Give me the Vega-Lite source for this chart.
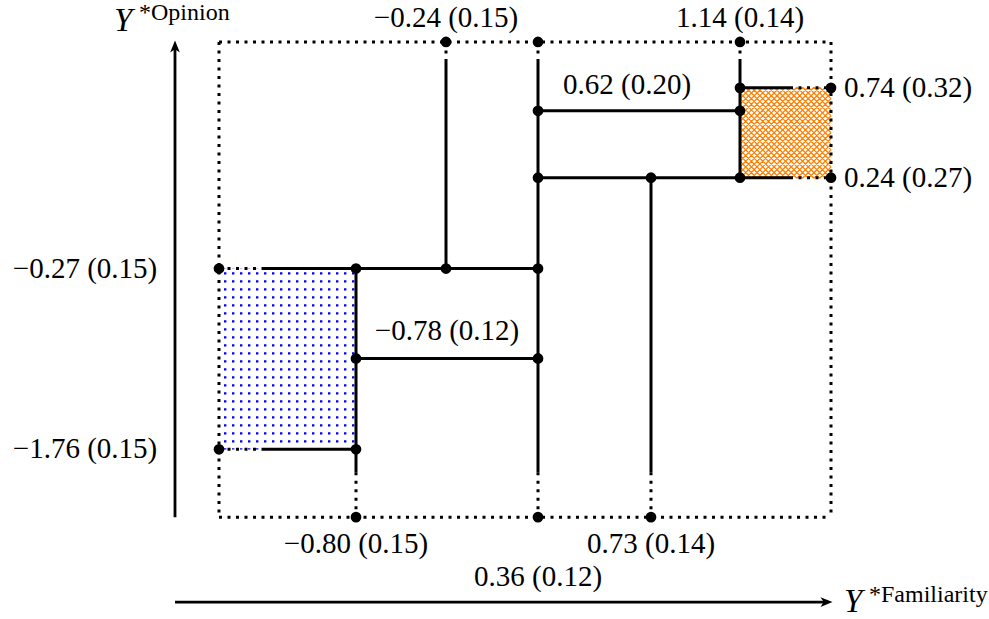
{
  "$schema": "https://vega.github.io/schema/vega-lite/v6.json",
  "width": 989,
  "height": 619,
  "autosize": {"type": "fit", "contains": "padding"},
  "padding": 0,
  "background": "white",
  "config": {"view": {"stroke": null}},
  "datasets": {
    "segments": [
      {"x": 219, "y": 42, "x2": 831, "y2": 42, "style": "dotted"},
      {"x": 219, "y": 518, "x2": 831, "y2": 518, "style": "dotted"},
      {"x": 219, "y": 42, "x2": 219, "y2": 518, "style": "dotted"},
      {"x": 831, "y": 42, "x2": 831, "y2": 518, "style": "dotted"},
      {"x": 446, "y": 42, "x2": 446, "y2": 62, "style": "dotted"},
      {"x": 446, "y": 62, "x2": 446, "y2": 269, "style": "solid"},
      {"x": 538, "y": 42, "x2": 538, "y2": 62, "style": "dotted"},
      {"x": 538, "y": 62, "x2": 538, "y2": 473, "style": "solid"},
      {"x": 538, "y": 473, "x2": 538, "y2": 518, "style": "dotted"},
      {"x": 740, "y": 42, "x2": 740, "y2": 62, "style": "dotted"},
      {"x": 740, "y": 62, "x2": 740, "y2": 178, "style": "solid"},
      {"x": 651, "y": 178, "x2": 651, "y2": 473, "style": "solid"},
      {"x": 651, "y": 473, "x2": 651, "y2": 518, "style": "dotted"},
      {"x": 356, "y": 269, "x2": 356, "y2": 473, "style": "solid"},
      {"x": 356, "y": 473, "x2": 356, "y2": 518, "style": "dotted"},
      {"x": 219, "y": 269, "x2": 263, "y2": 269, "style": "dotted"},
      {"x": 263, "y": 269, "x2": 538, "y2": 269, "style": "solid"},
      {"x": 219, "y": 450, "x2": 263, "y2": 450, "style": "dotted"},
      {"x": 263, "y": 450, "x2": 356, "y2": 450, "style": "solid"},
      {"x": 356, "y": 359, "x2": 538, "y2": 359, "style": "solid"},
      {"x": 538, "y": 111, "x2": 740, "y2": 111, "style": "solid"},
      {"x": 538, "y": 178, "x2": 740, "y2": 178, "style": "solid"},
      {"x": 740, "y": 178, "x2": 790, "y2": 178, "style": "solid"},
      {"x": 790, "y": 178, "x2": 831, "y2": 178, "style": "dotted"},
      {"x": 740, "y": 88, "x2": 790, "y2": 88, "style": "solid"},
      {"x": 790, "y": 88, "x2": 831, "y2": 88, "style": "dotted"}
    ],
    "axes": [
      {"x": 175, "y": 518, "x2": 175, "y2": 47},
      {"x": 175, "y": 603, "x2": 826, "y2": 603}
    ],
    "arrowheads": [
      {"x": 175, "y": 47, "angle": 0},
      {"x": 826, "y": 603, "angle": 90}
    ],
    "points": [
      {"x": 446, "y": 42}, {"x": 538, "y": 42}, {"x": 740, "y": 42},
      {"x": 831, "y": 88}, {"x": 831, "y": 178},
      {"x": 219, "y": 269}, {"x": 219, "y": 450},
      {"x": 356, "y": 518}, {"x": 538, "y": 518}, {"x": 651, "y": 518},
      {"x": 356, "y": 269}, {"x": 446, "y": 269}, {"x": 538, "y": 269},
      {"x": 356, "y": 359}, {"x": 538, "y": 359},
      {"x": 538, "y": 111}, {"x": 740, "y": 111},
      {"x": 538, "y": 178}, {"x": 651, "y": 178}, {"x": 740, "y": 178},
      {"x": 740, "y": 88}, {"x": 356, "y": 450}
    ],
    "labels": [
      {"text": "−0.24 (0.15)", "x": 446, "y": 18},
      {"text": "1.14 (0.14)", "x": 740, "y": 18},
      {"text": "0.62 (0.20)", "x": 627, "y": 85},
      {"text": "0.74 (0.32)", "x": 908, "y": 88},
      {"text": "0.24 (0.27)", "x": 908, "y": 178},
      {"text": "−0.27 (0.15)", "x": 85, "y": 269},
      {"text": "−1.76 (0.15)", "x": 85, "y": 450},
      {"text": "−0.78 (0.12)", "x": 447, "y": 332},
      {"text": "−0.80 (0.15)", "x": 356, "y": 545},
      {"text": "0.73 (0.14)", "x": 651, "y": 545},
      {"text": "0.36 (0.12)", "x": 538, "y": 578}
    ],
    "ymain": [
      {"text": "Y", "x": 114, "y": 31},
      {"text": "Y", "x": 844, "y": 613}
    ],
    "ysup": [
      {"text": "*Opinion", "x": 139, "y": 20},
      {"text": "*Familiarity", "x": 869, "y": 603}
    ]
  },
  "layer": [
    {
      "data": {"values": [{"x": 219, "x2": 356, "y": 359.5}]},
      "mark": {"type": "rule", "color": "#0000ff", "strokeWidth": 181, "strokeDash": [2.4, 5.6], "strokeDashOffset": 3, "strokeCap": "butt"},
      "encoding": {
        "x": {"field": "x", "type": "quantitative", "scale": {"domain": [0, 989], "nice": false, "zero": false}, "axis": null},
        "x2": {"field": "x2"},
        "y": {"field": "y", "type": "quantitative", "scale": {"domain": [0, 619], "nice": false, "zero": false, "reverse": true}, "axis": null}
      }
    },
    {
      "data": {"values": [{"x": 287.5, "y": 269, "y2": 450}]},
      "mark": {"type": "rule", "color": "white", "strokeWidth": 137, "strokeDash": [5.6, 2.4], "strokeDashOffset": 2, "strokeCap": "butt"},
      "encoding": {
        "x": {"field": "x", "type": "quantitative", "scale": {"domain": [0, 989], "nice": false, "zero": false}, "axis": null},
        "y": {"field": "y", "type": "quantitative", "scale": {"domain": [0, 619], "nice": false, "zero": false, "reverse": true}, "axis": null},
        "y2": {"field": "y2"}
      }
    },
    {
      "data": {"values": [{"x": 785.5, "y": 133}]},
      "mark": {"type": "point", "filled": false, "stroke": "#ff8000", "strokeWidth": 1.25, "opacity": 1, "size": 8281,
        "shape": "M-1,-0.875L-0.875,-1M-1,-0.75L-0.75,-1M-1,-0.625L-0.625,-1M-1,-0.5L-0.5,-1M-1,-0.375L-0.375,-1M-1,-0.25L-0.25,-1M-1,-0.125L-0.125,-1M-1,0L0,-1M-1,0.125L0.125,-1M-1,0.25L0.25,-1M-1,0.375L0.375,-1M-1,0.5L0.5,-1M-1,0.625L0.625,-1M-1,0.75L0.75,-1M-1,0.875L0.875,-1M-1,1L1,-1M-0.875,1L1,-0.875M-0.75,1L1,-0.75M-0.625,1L1,-0.625M-0.5,1L1,-0.5M-0.375,1L1,-0.375M-0.25,1L1,-0.25M-0.125,1L1,-0.125M0,1L1,0M0.125,1L1,0.125M0.25,1L1,0.25M0.375,1L1,0.375M0.5,1L1,0.5M0.625,1L1,0.625M0.75,1L1,0.75M0.875,1L1,0.875M-1,0.875L-0.875,1M-1,0.75L-0.75,1M-1,0.625L-0.625,1M-1,0.5L-0.5,1M-1,0.375L-0.375,1M-1,0.25L-0.25,1M-1,0.125L-0.125,1M-1,0L0,1M-1,-0.125L0.125,1M-1,-0.25L0.25,1M-1,-0.375L0.375,1M-1,-0.5L0.5,1M-1,-0.625L0.625,1M-1,-0.75L0.75,1M-1,-0.875L0.875,1M-1,-1L1,1M-0.875,-1L1,0.875M-0.75,-1L1,0.75M-0.625,-1L1,0.625M-0.5,-1L1,0.5M-0.375,-1L1,0.375M-0.25,-1L1,0.25M-0.125,-1L1,0.125M0,-1L1,0M0.125,-1L1,-0.125M0.25,-1L1,-0.25M0.375,-1L1,-0.375M0.5,-1L1,-0.5M0.625,-1L1,-0.625M0.75,-1L1,-0.75M0.875,-1L1,-0.875"},
      "encoding": {
        "x": {"field": "x", "type": "quantitative", "scale": {"domain": [0, 989], "nice": false, "zero": false}, "axis": null},
        "y": {"field": "y", "type": "quantitative", "scale": {"domain": [0, 619], "nice": false, "zero": false, "reverse": true}, "axis": null}
      }
    },
    {
      "data": {"name": "segments"},
      "mark": {"type": "rule", "color": "black", "strokeWidth": 3, "strokeCap": "butt"},
      "encoding": {
        "x": {"field": "x", "type": "quantitative", "scale": {"domain": [0, 989], "nice": false, "zero": false}, "axis": null},
        "x2": {"field": "x2"},
        "y": {"field": "y", "type": "quantitative", "scale": {"domain": [0, 619], "nice": false, "zero": false, "reverse": true}, "axis": null},
        "y2": {"field": "y2"},
        "strokeDash": {"field": "style", "type": "nominal", "scale": {"domain": ["solid", "dotted"], "range": [[1, 0], [3, 5.5]]}, "legend": null}
      }
    },
    {
      "data": {"name": "axes"},
      "mark": {"type": "rule", "color": "black", "strokeWidth": 2.8},
      "encoding": {
        "x": {"field": "x", "type": "quantitative", "scale": {"domain": [0, 989], "nice": false, "zero": false}, "axis": null},
        "x2": {"field": "x2"},
        "y": {"field": "y", "type": "quantitative", "scale": {"domain": [0, 619], "nice": false, "zero": false, "reverse": true}, "axis": null},
        "y2": {"field": "y2"}
      }
    },
    {
      "data": {"name": "arrowheads"},
      "mark": {"type": "point", "filled": true, "color": "black", "opacity": 1, "size": 169, "shape": "M0,-1L0.75,0.85L0,0.35L-0.75,0.85Z"},
      "encoding": {
        "x": {"field": "x", "type": "quantitative", "scale": {"domain": [0, 989], "nice": false, "zero": false}, "axis": null},
        "y": {"field": "y", "type": "quantitative", "scale": {"domain": [0, 619], "nice": false, "zero": false, "reverse": true}, "axis": null},
        "angle": {"field": "angle", "type": "quantitative", "scale": null}
      }
    },
    {
      "data": {"name": "points"},
      "mark": {"type": "circle", "color": "black", "opacity": 1, "size": 115},
      "encoding": {
        "x": {"field": "x", "type": "quantitative", "scale": {"domain": [0, 989], "nice": false, "zero": false}, "axis": null},
        "y": {"field": "y", "type": "quantitative", "scale": {"domain": [0, 619], "nice": false, "zero": false, "reverse": true}, "axis": null}
      }
    },
    {
      "data": {"name": "labels"},
      "mark": {"type": "text", "font": "Liberation Serif", "fontSize": 29, "align": "center", "baseline": "middle", "color": "black"},
      "encoding": {
        "x": {"field": "x", "type": "quantitative", "scale": {"domain": [0, 989], "nice": false, "zero": false}, "axis": null},
        "y": {"field": "y", "type": "quantitative", "scale": {"domain": [0, 619], "nice": false, "zero": false, "reverse": true}, "axis": null},
        "text": {"field": "text"}
      }
    },
    {
      "data": {"name": "ymain"},
      "mark": {"type": "text", "font": "Liberation Serif", "fontStyle": "italic", "fontSize": 33, "align": "left", "baseline": "alphabetic", "color": "black"},
      "encoding": {
        "x": {"field": "x", "type": "quantitative", "scale": {"domain": [0, 989], "nice": false, "zero": false}, "axis": null},
        "y": {"field": "y", "type": "quantitative", "scale": {"domain": [0, 619], "nice": false, "zero": false, "reverse": true}, "axis": null},
        "text": {"field": "text"}
      }
    },
    {
      "data": {"name": "ysup"},
      "mark": {"type": "text", "font": "Liberation Serif", "fontSize": 24, "align": "left", "baseline": "alphabetic", "color": "black"},
      "encoding": {
        "x": {"field": "x", "type": "quantitative", "scale": {"domain": [0, 989], "nice": false, "zero": false}, "axis": null},
        "y": {"field": "y", "type": "quantitative", "scale": {"domain": [0, 619], "nice": false, "zero": false, "reverse": true}, "axis": null},
        "text": {"field": "text"}
      }
    }
  ]
}
